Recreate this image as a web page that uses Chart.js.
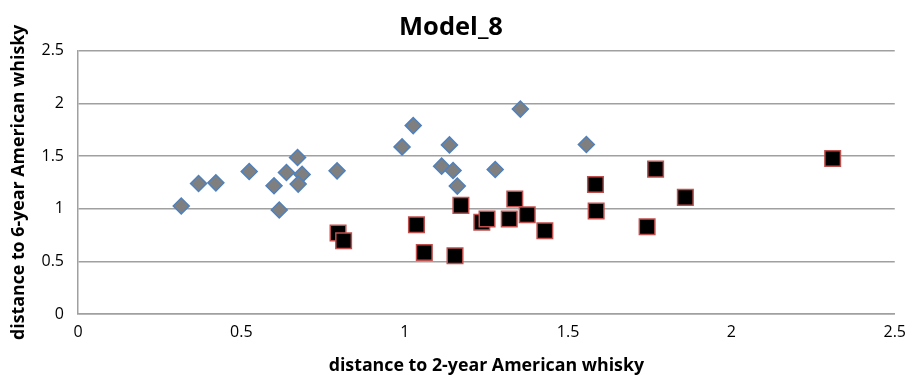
<!DOCTYPE html>
<html>
<head>
<meta charset="utf-8">
<script src="https://cdn.jsdelivr.net/npm/chart.js@4.4.1/dist/chart.umd.min.js"></script>
<style>
  html, body { margin: 0; padding: 0; background: #fff; }
  #wrap { width: 915px; height: 375px; }
</style>
</head>
<body>
<div id="wrap"><canvas id="chart"></canvas></div>
<script>
// Series 1 (grey diamonds)
const diamondX = [0.316, 0.369, 0.422, 0.524, 0.600, 0.616, 0.638, 0.672, 0.686, 0.674,
                  0.793, 1.026, 0.992, 1.137, 1.113, 1.148, 1.161, 1.277, 1.354, 1.556];
const diamondY = [1.025, 1.239, 1.245, 1.353, 1.217, 0.987, 1.343, 1.485, 1.325, 1.233,
                  1.359, 1.788, 1.586, 1.605, 1.403, 1.362, 1.214, 1.372, 1.945, 1.609];

// Series 2 (black squares)
const squareX = [0.796, 0.813, 1.036, 1.060, 1.154, 1.172, 1.236, 1.252, 1.337,
                 1.320, 1.375, 1.429, 1.584, 1.586, 1.768, 1.859, 1.742, 2.310];
const squareY = [0.769, 0.696, 0.848, 0.583, 0.552, 1.031, 0.870, 0.902, 1.091,
                 0.902, 0.942, 0.791, 1.230, 0.977, 1.375, 1.107, 0.829, 1.476];

const axisTicks = [0, 0.5, 1, 1.5, 2, 2.5];

const chartTitle = 'Model_8';
const xTitle = 'distance to 2-year American whisky';
const yTitle = 'distance to 6-year American whisky';

function toPoints(xs, ys) {
    return xs.map((x, i) => ({ x: x, y: ys[i] }));
}

const gridGrey = '#a0a0a0';
const fontFamily = '"Open Sans", "Noto Sans", sans-serif';

new Chart(document.getElementById('chart').getContext('2d'), {
    type: 'scatter',
    data: {
        datasets: [
            {
                label: 'diamonds',
                data: toPoints(diamondX, diamondY),
                pointStyle: 'rectRot',
                pointRadius: 8,
                backgroundColor: '#7f7f7f',
                borderColor: '#4f81bd',
                borderWidth: 1.5,
                order: 1
            },
            {
                label: 'squares',
                data: toPoints(squareX, squareY),
                pointStyle: 'rect',
                pointRadius: 11,
                backgroundColor: '#000000',
                borderColor: '#c0504d',
                borderWidth: 1.5,
                order: 2
            }
        ]
    },
    options: {
        responsive: true,
        maintainAspectRatio: false,
        animation: false,
        layout: {
            padding: { left: 0, right: 13, top: 0, bottom: 0 }
        },
        scales: {
            x: {
                type: 'linear',
                min: 0,
                max: 2.5,
                afterBuildTicks: scale => {
                    scale.ticks = axisTicks.map(v => ({ value: v }));
                },
                afterFit: scale => { scale.height = 61; },
                grid: { display: false, drawTicks: false },
                border: { display: true, color: gridGrey, width: 1.5 },
                ticks: {
                    padding: 9,
                    color: '#000',
                    font: { family: fontFamily, size: 16 },
                    maxRotation: 0,
                    callback: value => String(value)
                },
                title: {
                    display: true,
                    text: xTitle,
                    color: '#000',
                    padding: { top: 0, bottom: 0 },
                    font: { family: fontFamily, size: 17.8, weight: 'bold', lineHeight: 1 }
                }
            },
            y: {
                type: 'linear',
                min: 0,
                max: 2.5,
                afterBuildTicks: scale => {
                    scale.ticks = axisTicks.map(v => ({ value: v }));
                },
                afterFit: scale => { scale.width = 78; },
                grid: { color: gridGrey, lineWidth: 1.5, drawTicks: false },
                border: { display: true, color: gridGrey, width: 1.5 },
                ticks: {
                    padding: 14,
                    color: '#000',
                    font: { family: fontFamily, size: 16 },
                    callback: value => String(value)
                },
                title: {
                    display: true,
                    text: yTitle,
                    color: '#000',
                    padding: { top: 10, bottom: 0 },
                    font: { family: fontFamily, size: 17.8, weight: 'bold', lineHeight: 1 }
                }
            }
        },
        plugins: {
            legend: { display: false },
            tooltip: { enabled: false },
            title: {
                display: true,
                text: chartTitle,
                color: '#000',
                padding: { top: 12, bottom: 8 },
                font: { family: fontFamily, size: 25.5, weight: 'bold', lineHeight: 1.2 }
            }
        }
    }
});
</script>
</body>
</html>
